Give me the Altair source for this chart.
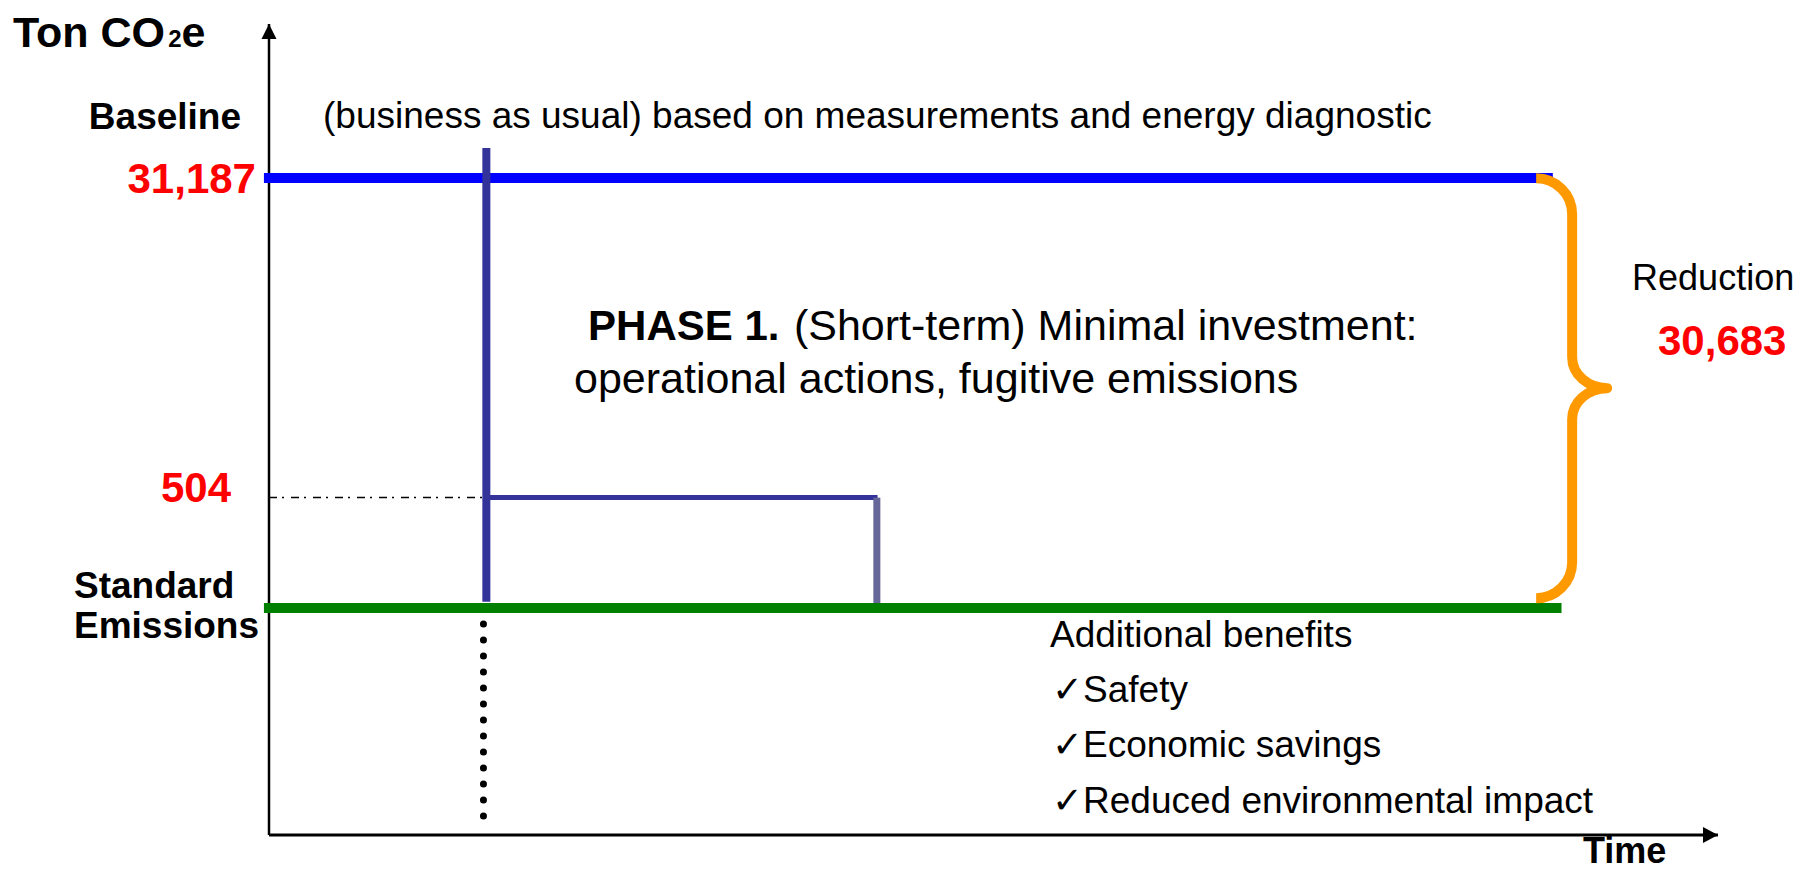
import altair as alt
import pandas as pd

# ---- values shown on the schematic -------------------------------------
baseline_value = 31187
phase_value = 504
reduction_value = 30683

# schematic levels on the (unitless) "Ton CO2e" axis
baseline_level = 81.0
phase_level = 41.6
standard_level = 28.0
phase_top_level = 84.7
dotted_bottom_level = 2.2

# schematic positions on the (unitless) "Time" axis
line_start = -0.35
phase_start = 15.0
phase_end = 42.0
baseline_end = 88.6
standard_end = 89.2
dotted_x = 14.8
brace_x = 87.45
axis_end = 100.0

benefits = ["Additional benefits", "\u2713Safety", "\u2713Economic savings",
            "\u2713Reduced environmental impact"]
benefit_levels = [23.18, 16.4, 9.62, 2.71]

FONT = "Liberation Sans"
xs = alt.Scale(domain=[0, 100], nice=False, zero=False)
ys = alt.Scale(domain=[0, 100], nice=False, zero=False)


def seg(x, y, x2=None, y2=None):
    d = {"x": [x], "y": [y]}
    if x2 is not None:
        d["x2"] = [x2]
    if y2 is not None:
        d["y2"] = [y2]
    return pd.DataFrame(d)


def rule(df, **style):
    enc = dict(x=alt.X("x:Q", scale=xs, axis=None),
               y=alt.Y("y:Q", scale=ys, axis=None))
    if "x2" in df:
        enc["x2"] = "x2:Q"
    if "y2" in df:
        enc["y2"] = "y2:Q"
    return alt.Chart(df).mark_rule(**style).encode(**enc)


def text(label, x, y, size, bold=False, color="black", align="left", dx=0):
    return alt.Chart(seg(x, y)).mark_text(
        text=label, font=FONT, fontSize=size,
        fontWeight="bold" if bold else "normal", color=color,
        align=align, baseline="alphabetic", dx=dx,
    ).encode(x=alt.X("x:Q", scale=xs, axis=None),
             y=alt.Y("y:Q", scale=ys, axis=None))


layers = []

# axes with arrowheads
layers.append(rule(seg(0, 0, y2=100), color="black", strokeWidth=2.5))
layers.append(rule(seg(0, 0, x2=axis_end), color="black", strokeWidth=3))
layers.append(alt.Chart(seg(0, 100)).mark_point(
    shape="M0,0L1,2L-1,2Z", size=225, filled=True, color="black",
    opacity=1, strokeWidth=0).encode(
    x=alt.X("x:Q", scale=xs, axis=None), y=alt.Y("y:Q", scale=ys, axis=None)))
layers.append(alt.Chart(seg(axis_end, 0)).mark_point(
    shape="M0,0L-2,-1.07L-2,1.07Z", size=225, filled=True, color="black",
    opacity=1, strokeWidth=0).encode(
    x=alt.X("x:Q", scale=xs, axis=None), y=alt.Y("y:Q", scale=ys, axis=None)))

# dash-dot guide to the 504 level and dotted drop line
layers.append(rule(seg(0, phase_level, x2=phase_start), color="black",
                   strokeWidth=1.5, strokeDash=[8, 5, 2, 7]))
layers.append(rule(seg(dotted_x, standard_level, y2=dotted_bottom_level),
                   color="black", strokeWidth=7, strokeDash=[0, 16],
                   strokeCap="round"))

# phase 1 box
layers.append(rule(seg(phase_start, phase_level, x2=phase_end),
                   color="#333399", strokeWidth=5))
layers.append(rule(seg(phase_end - 0.05, phase_level, y2=standard_level),
                   color="#666699", strokeWidth=7))

# baseline and standard emission lines
layers.append(rule(seg(line_start, baseline_level, x2=baseline_end),
                   color="#0000FF", strokeWidth=10))
layers.append(rule(seg(line_start, standard_level, x2=standard_end),
                   color="#008000", strokeWidth=10))

# phase start vertical
layers.append(rule(seg(phase_start, standard_level + 0.75, y2=phase_top_level),
                   color="#333399", strokeWidth=8))

# brace for the reduction
brace_path = ("M0,-21C1.99,-21 3.6,-19.39 3.6,-17.4L3.6,-3.1"
              "C3.6,-1.39 5.17,0 7.1,0C5.17,0 3.6,1.39 3.6,3.1L3.6,17.4"
              "C3.6,19.39 1.99,21 0,21")
layers.append(alt.Chart(seg(brace_x, (baseline_level + standard_level) / 2 + 0.6)).mark_point(
    shape=brace_path, size=400, filled=False, color="#FF9900", opacity=1,
    strokeWidth=10, strokeJoin="round", strokeCap="butt").encode(
    x=alt.X("x:Q", scale=xs, axis=None), y=alt.Y("y:Q", scale=ys, axis=None)))

# texts
layers.append(text("Ton CO", -17.67, 97.16, 43, bold=True))
layers.append(text("2", -17.67, 97.16, 24, bold=True, dx=155.3))
layers.append(text("e", -17.67, 97.16, 43, bold=True, dx=168.6))
layers.append(text("Baseline", -1.93, 87.05, 37, bold=True, align="right"))
layers.append(text("(business as usual) based on measurements and energy diagnostic",
                   3.73, 87.18, 37))
layers.append(text(f"{baseline_value:,}", -0.9, 79.16, 42, bold=True,
                   color="#FF0000", align="right"))
layers.append(text("PHASE 1.", 22.02, 61.04, 42, bold=True))
layers.append(text("(Short-term) Minimal investment:", 36.02, 61.04, 43, dx=3))
layers.append(text("operational actions, fugitive emissions", 21.05, 54.5, 43))
layers.append(text(f"{phase_value:,}", -2.62, 41.06, 42, bold=True,
                   color="#FF0000", align="right"))
layers.append(text("Standard", -13.46, 29.22, 37, bold=True))
layers.append(text("Emissions", -13.46, 24.29, 37, bold=True))
for lab, lv in zip(benefits, benefit_levels):
    layers.append(text(lab, 53.9 if lab.startswith("A") else 54.04, lv, 37))
layers.append(text("Reduction", 94.07, 67.2, 36))
layers.append(text(f"{reduction_value:,}", 95.86, 59.19, 42, bold=True,
                   color="#FF0000"))
layers.append(text("Time", 90.68, -3.45, 36, bold=True))

chart = alt.layer(*layers).properties(
    width=1449, height=811,
    padding={"left": 261, "top": 16, "right": 80, "bottom": 42},
    autosize="none", background="white",
).configure_view(stroke=None)

chart.save("out.html", embed_options={"renderer": "svg", "actions": False})
